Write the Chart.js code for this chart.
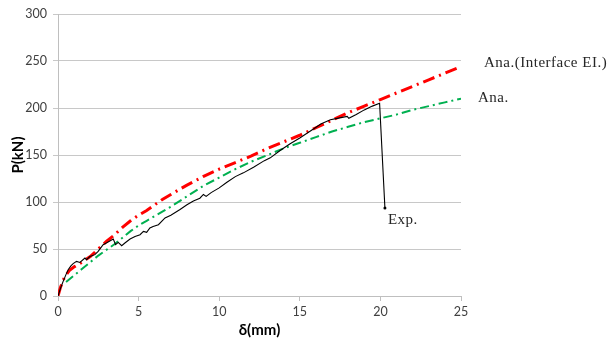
<!DOCTYPE html>
<html><head><meta charset="utf-8">
<script src="https://cdn.jsdelivr.net/npm/chart.js@4/dist/chart.umd.min.js"></script>
<style>html,body{margin:0;padding:0;background:#fff}</style>
</head><body>
<canvas id="c" width="608" height="343"></canvas>
<script>
// Experimental curve (Exp.)
const expX = [0,0.15,0.32,0.5,0.63,0.8,0.94,1.15,1.36,1.67,1.77,1.98,2.29,2.49,2.8,3.0,3.43,3.57,3.74,3.95,4.15,4.47,4.78,5.09,5.3,5.5,5.7,5.9,6.23,6.64,7.0,7.57,8.0,8.4,8.8,9.02,9.19,9.5,10.0,10.48,11.0,11.5,12.13,12.8,13.17,13.8,14.4,15.0,15.87,16.3,16.9,17.32,17.94,18.04,18.5,19.0,19.5,19.95,20.28];
const expP = [0,8,15.6,23,28,32,34.4,36.8,35.7,40.4,38.6,42,44,47.5,54.6,56.4,60.6,54.6,57,53.5,56.4,60.6,63.4,65.2,68.7,67.7,72.3,74,75.9,83,86,92,97,101,104,108,106,110,115,121,127,131,137,144,147,155,162,168,178,183,187.5,189,191,189,193,198,202,205,93.6];
// Analytical (Interface EI)
const anaIX = [0,0.15,0.4,0.7,1.0,1.5,2.0,2.5,3.0,3.5,4.0,4.5,5.0,5.5,6.0,6.5,7,8,9,10,11,12,13,14,15,16,17,18,19,20,21,22,23,24,25];
const anaIP = [0,9,20,27,31,36,42,50,58,65,73,80,86,91,97,103,108,118,127,135,142,149,157,164,171,179,187,195,202,209,216,223,230,237,244];
// Analytical
const anaX = [0.5,1,1.5,2,2.5,3,3.5,4,4.5,5,5.5,6,6.5,7,8,9,10,11,12,13,14,15,16,17,18,19,20,21,22,23,24,25];
const anaP = [15,22,29,36,43,49,55,62,69,75,80,85,90,95,106,117,126,135,143,150,157,163,169,175,180,185,189,193,198,202,206,210];

const xTicks = [0,5,10,15,20,25];
const yTicks = [0,50,100,150,200,250,300];

const toPts = (xs, ys) => xs.map((x, i) => ({x, y: ys[i]}));

const labelPlugin = {
  id: 'endLabels',
  afterDatasetsDraw(chart) {
    const ctx = chart.ctx, xs = chart.scales.x, ys = chart.scales.y;
    ctx.save();
    ctx.fillStyle = '#262626';
    ctx.font = '15px "Liberation Serif", serif';
    ctx.letterSpacing = '0.5px';
    ctx.textBaseline = 'middle';
    ctx.textAlign = 'left';
    const n1 = anaIX.length - 1;
    ctx.fillText('Ana.(Interface EI.)', xs.getPixelForValue(anaIX[n1]) + 23, ys.getPixelForValue(anaIP[n1]) - 4);
    const n2 = anaX.length - 1;
    ctx.fillText('Ana.', xs.getPixelForValue(anaX[n2]) + 17, ys.getPixelForValue(anaP[n2]) - 1);
    const n3 = expX.length - 1;
    ctx.fillText('Exp.', xs.getPixelForValue(expX[n3]) + 3, ys.getPixelForValue(expP[n3]) + 12);
    ctx.restore();
  }
};

new Chart(document.getElementById('c'), {
  type: 'scatter',
  data: {
    datasets: [
      { label: 'Exp.', data: toPts(expX, expP), showLine: true, borderColor: '#000', borderWidth: 1.1,
        pointRadius: ctx => ctx.dataIndex === expX.length - 1 ? 1.5 : 0, pointBackgroundColor: '#000', pointBorderWidth: 0, tension: 0, order: 1 },
      { label: 'Ana.', data: toPts(anaX, anaP), showLine: true, borderColor: '#00b050', borderWidth: 2,
        borderDash: [9,4,2,4], pointRadius: 0, tension: 0, order: 3 },
      { label: 'Ana.(Interface EI.)', data: toPts(anaIX, anaIP), showLine: true, borderColor: '#ff0000', borderWidth: 3,
        borderDash: [12,5,2,5], pointRadius: 0, tension: 0, order: 2 }
    ]
  },
  options: {
    responsive: false,
    animation: false,
    layout: { padding: { top: 14, right: 147, left: 9, bottom: 0 } },
    plugins: { legend: { display: false }, tooltip: { enabled: false } },
    scales: {
      x: {
        type: 'linear', min: 0, max: 25,
        afterBuildTicks: s => { s.ticks = xTicks.map(v => ({value: v})); },
        afterFit: s => { s.height = 47; },
        ticks: { color: '#404040', font: { family: 'Lato', size: 12.5 }, padding: 3 },
        grid: { drawOnChartArea: false, tickLength: 5, color: '#bfbfbf' },
        border: { color: '#bfbfbf' },
        title: { display: true, text: 'δ(mm)', color: '#000', font: { family: 'Lato', size: 15, weight: 'bold' }, padding: { top: 0 } }
      },
      y: {
        type: 'linear', min: 0, max: 300,
        afterBuildTicks: s => { s.ticks = yTicks.map(v => ({value: v})); },
        afterFit: s => { s.width = 49; },
        ticks: { color: '#404040', font: { family: 'Lato', size: 12.5 }, padding: 6 },
        grid: { color: '#c8c8c8', tickLength: 5 },
        border: { color: '#bfbfbf' },
        title: { display: true, text: 'P(kN)', color: '#000', font: { family: 'Lato', size: 15, weight: 'bold' }, padding: 0 }
      }
    }
  },
  plugins: [labelPlugin]
});
</script>
</body></html>
